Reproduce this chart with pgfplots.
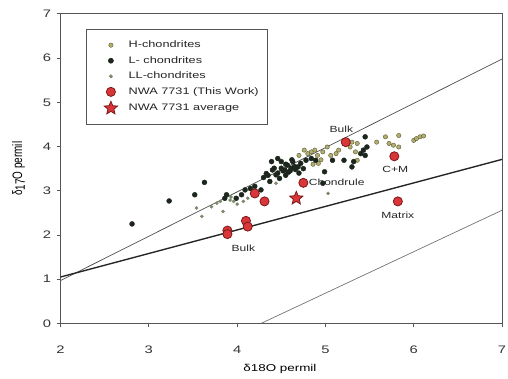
\documentclass[border=0pt]{standalone}
\usepackage{graphicx}
\usepackage{pgfplots}
\pgfplotsset{compat=1.18}
\usepackage{fontspec}
\setmainfont{Liberation Sans}
\definecolor{hcol}{HTML}{B2AE70}
\definecolor{hedge}{HTML}{5A5A30}
\definecolor{lcol}{HTML}{1C261C}
\definecolor{llcol}{HTML}{7C8A6C}
\definecolor{nwa}{HTML}{D9363A}
\definecolor{nwaedge}{HTML}{7A1818}
\definecolor{axgray}{HTML}{555555}
\newcommand{\W}[1]{\scalebox{1.35}[1]{#1}}
\pgfdeclareplotmark{fstar}{%
  \pgfpathmoveto{\pgfpointpolar{90}{\pgfplotmarksize}}%
  \pgfpathlineto{\pgfpointpolar{126}{0.45\pgfplotmarksize}}%
  \pgfpathlineto{\pgfpointpolar{162}{\pgfplotmarksize}}%
  \pgfpathlineto{\pgfpointpolar{198}{0.45\pgfplotmarksize}}%
  \pgfpathlineto{\pgfpointpolar{234}{\pgfplotmarksize}}%
  \pgfpathlineto{\pgfpointpolar{270}{0.45\pgfplotmarksize}}%
  \pgfpathlineto{\pgfpointpolar{306}{\pgfplotmarksize}}%
  \pgfpathlineto{\pgfpointpolar{342}{0.45\pgfplotmarksize}}%
  \pgfpathlineto{\pgfpointpolar{18}{\pgfplotmarksize}}%
  \pgfpathlineto{\pgfpointpolar{54}{0.45\pgfplotmarksize}}%
  \pgfpathclose
  \pgfusepathqfillstroke}
\begin{document}
\begin{tikzpicture}
\begin{axis}[
  scale only axis, width=445pt, height=312pt,
  xmin=2, xmax=7, ymin=0, ymax=7,
  xtick={2,3,4,5,6,7}, ytick={0,1,2,3,4,5,6,7},
  tick pos=left, tick align=outside, major tick length=4pt,
  axis line style={axgray, line width=0.9pt},
  every tick/.style={axgray, line width=0.8pt},
  /pgf/number format/assume math mode=true,
  xticklabel={\W{\pgfmathprintnumber{\tick}}},
  yticklabel={\W{\pgfmathprintnumber{\tick}}},
  tick label style={font=\fontsize{11}{12}\selectfont, text=black!80},
  xticklabel style={yshift=-15pt},
  yticklabel style={xshift=-2pt},
  xlabel={\W{δ18O permil}},
  ylabel={\scalebox{1}[1.38]{δ\raisebox{-2pt}{17}O permil}},
  label style={font=\fontsize{12}{14}\selectfont, text=black!85},
  every axis x label/.style={at={(axis description cs:0.497,-0.147)}, anchor=center},
  every axis y label/.style={at={(axis description cs:-0.095,0.5)}, anchor=center, rotate=90},
  legend style={at={(26pt,297pt)}, anchor=north west, draw=axgray, line width=0.7pt,
    font=\fontsize{9.5}{11}\selectfont, text=black!85, inner xsep=7pt, inner ysep=10pt,
    row sep=3.3pt, column sep=8pt, cells={anchor=west}},
  legend image code/.code={\path (0cm,0cm) (0.6cm+7.5pt,0cm); \draw[#1] plot coordinates {(0.6cm,0cm)};},
  legend cell align=left,
  clip=false,
]
\addplot[only marks, mark=*, mark size=2.2pt, mark options={fill=hcol, draw=hedge, line width=0.4pt}] coordinates {
(4.76,3.92)(4.80,3.84)(4.84,3.88)(4.88,3.92)(4.91,3.80)(4.97,3.88)(5.02,3.99)(5.06,3.80)(5.12,3.84)(5.15,3.92)
(5.30,4.10)(5.36,4.07)(5.28,3.99)(5.34,3.88)(5.58,4.10)(5.68,4.22)(5.72,4.07)(5.77,4.03)(5.83,4.25)(5.83,3.99)
(6.00,4.14)(6.03,4.18)(6.07,4.22)(6.11,4.24)(5.36,3.69)(4.86,3.60)(4.95,3.70)(4.70,3.80)(4.92,3.62)
};
\addlegendentry{\W{H-chondrites}}
\addplot[only marks, mark=*, mark size=2.5pt, mark options={fill=lcol, draw=lcol}] coordinates {
(2.81,2.25)(3.23,2.77)(3.52,2.91)(3.63,3.19)(3.86,2.83)(3.88,2.91)(3.99,2.83)(4.05,2.91)(4.09,3.02)(4.27,3.02)
(4.33,3.39)(4.40,3.47)(4.44,3.36)(4.50,3.51)(4.37,3.21)(4.48,3.28)(4.50,3.66)(4.57,3.58)(4.63,3.66)(4.42,3.51)
(4.54,3.47)(4.61,3.51)(4.69,3.54)(4.55,3.60)(4.65,3.55)(4.72,3.62)(4.78,3.69)(4.84,3.73)(4.89,3.69)(5.08,3.69)
(4.99,3.43)(5.21,3.69)(5.43,3.92)(5.32,3.66)(5.45,4.22)(5.47,3.99)(5.40,3.84)(5.45,3.80)(5.30,3.54)(4.97,3.17)
(4.46,3.40)(4.52,3.45)(4.58,3.42)(4.39,3.66)(4.46,3.73)(4.30,3.30)(4.35,3.35)(4.60,3.45)(4.66,3.48)(4.70,3.40)
(4.75,3.50)(4.15,3.05)(4.20,3.10)(4.62,3.70)(4.55,3.35)
};
\addlegendentry{\W{L- chondrites}}
\addplot[only marks, mark=*, mark size=1.6pt, mark options={fill=llcol, draw=llcol}] coordinates {
(3.54,2.61)(3.60,2.42)(3.71,2.64)(3.77,2.72)(3.81,2.76)(3.92,2.79)(3.96,2.76)(4.07,2.76)(3.84,2.53)(4.12,2.83)
(4.44,3.17)(4.00,2.70)(4.18,2.90)(5.03,2.94)(3.93,2.86)
};
\addlegendentry{\W{LL-chondrites}}
\addplot[only marks, mark=*, mark size=4.6pt, mark options={fill=nwa, draw=nwaedge, line width=0.8pt}] coordinates {
(5.23,4.10)(5.78,3.78)(4.75,3.18)(5.82,2.76)(4.20,2.94)(4.31,2.76)(4.10,2.32)(4.12,2.19)(3.89,2.10)(3.89,2.02)
};
\addlegendentry{\W{NWA 7731 (This Work)}}
\addplot[only marks, mark=fstar, mark size=7pt, mark options={fill=nwa, draw=nwaedge, line width=0.8pt}] coordinates {
(4.67,2.83)
};
\addlegendentry{\W{NWA 7731 average}}
\addplot[black!70, line width=0.7pt, forget plot] coordinates {(2,0.97)(7,5.98)};
\addplot[black!85, line width=1.4pt, forget plot] coordinates {(2,1.05)(7,3.71)};
\addplot[black!55, line width=0.7pt, forget plot] coordinates {(4.27,0)(7,2.56)};
\node[font=\fontsize{9}{10}\selectfont, text=black!85] at (axis cs:5.18,4.40) {\W{Bulk}};
\node[font=\fontsize{9}{10}\selectfont, text=black!85] at (axis cs:5.79,3.48) {\W{C+M}};
\node[font=\fontsize{9}{10}\selectfont, text=black!85, anchor=west, inner sep=0pt] at (axis cs:4.81,3.19) {\W{Chondrule}};
\node[font=\fontsize{9}{10}\selectfont, text=black!85] at (axis cs:5.82,2.45) {\W{Matrix}};
\node[font=\fontsize{9}{10}\selectfont, text=black!85] at (axis cs:4.07,1.71) {\W{Bulk}};
\end{axis}
\pgfresetboundingbox
\path ([shift={(-61pt,-55pt)}]current axis.south west) rectangle ([shift={(6pt,14pt)}]current axis.north east);
\end{tikzpicture}
\end{document}
